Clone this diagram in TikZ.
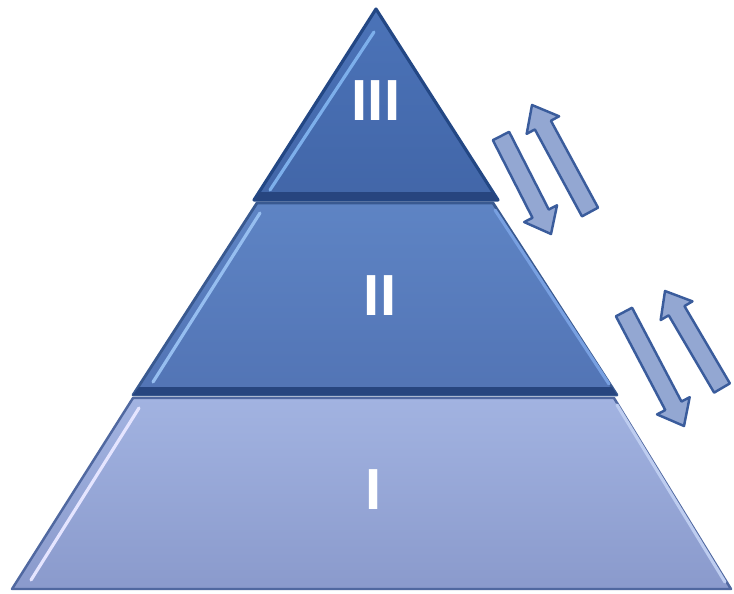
\documentclass[tikz,border=0pt]{standalone}
\usepackage{fontspec}
\setsansfont{Liberation Sans}
\usetikzlibrary{calc}
\definecolor{rimdark}{HTML}{234784}
\definecolor{bandnavy}{HTML}{27457F}
\definecolor{threetop}{HTML}{4B73B8}
\definecolor{threebot}{HTML}{4266A8}
\definecolor{twotop}{HTML}{5E84C4}
\definecolor{twobot}{HTML}{5274B5}
\definecolor{onetop}{HTML}{A2B3E1}
\definecolor{onebot}{HTML}{8A9ACC}
\definecolor{onerim}{HTML}{5068A0}
\definecolor{lightone}{HTML}{BECDF0}
\definecolor{lighttwo}{HTML}{96BEF0}
\definecolor{rimtwo}{HTML}{78A0E1}
\definecolor{lightthree}{HTML}{7DAFEB}
\definecolor{arrowfill}{HTML}{93A7D2}
\definecolor{arrowrim}{HTML}{3A5C9C}
\tikzset{
  tierthree/.style ={draw=rimdark, line width=1.8pt, line join=round,
                     top color=threetop, bottom color=threebot},
  tiertwo/.style   ={draw=rimdark!90, line width=1.6pt, line join=round,
                     top color=twotop, bottom color=twobot},
  tierone/.style   ={draw=onerim, line width=1.4pt, line join=round,
                     top color=onetop, bottom color=onebot},
  band/.style      ={fill=bandnavy},
  hilite/.style    ={line width=1.8pt, line cap=round},
  numeral/.style   ={font=\sffamily\bfseries\fontsize{33}{33}\selectfont,
                     text=white, inner sep=0pt},
  barrow/.style    ={fill=arrowfill, draw=arrowrim, line width=1.4pt,
                     line join=round},
}
\newcommand{\blockarrow}[2]{%
  \coordinate (neck) at ($(#2)!13pt!(#1)$);
  \draw[barrow] ($(#1)!5.2pt!90:(#2)$) -- ($(neck)!5.2pt!90:(#2)$)
    -- ($(neck)!10.5pt!90:(#2)$) -- (#2) -- ($(neck)!10.5pt!-90:(#2)$)
    -- ($(neck)!5.2pt!-90:(#2)$) -- ($(#1)!5.2pt!-90:(#2)$) -- cycle;
}

\begin{document}
\begin{tikzpicture}[x=0.02cm, y=-0.02cm]
\useasboundingbox (0,0) rectangle (734,593);
% level I
\draw[tierone] (133,398) -- (614,398) -- (731,589) -- (12,589) -- cycle;
\draw[hilite, white!90!blue] (139,408) -- (31,580);
\draw[hilite, lightone] (617,405) -- (725,582);
% level II
\draw[tiertwo] (257,203) -- (493,203) -- (617,395) -- (133,395) -- cycle;
\fill[band] (139,387) -- (612,387) -- (617,395) -- (133,395) -- cycle;
\draw[hilite, lighttwo] (260,213) -- (153,382);
\draw[hilite, rimtwo] (495,210) -- (609,384);
% level III
\draw[tierthree] (376,9) -- (498,200) -- (254,200) -- cycle;
\fill[band] (260,192) -- (493,192) -- (498,200) -- (254,200) -- cycle;
\draw[hilite, lightthree] (374,32) -- (270,190);
% numerals
\node[numeral] (numIII) at (376,101) {III};
\node[numeral] (numII)  at (380,296) {II};
\node[numeral] (numI)   at (374,490) {I};
% exchange arrows
\coordinate (downA) at (501,136);
\coordinate (tipdownA) at (551,234);
\coordinate (upA) at (590,212);
\coordinate (tipupA) at (532,105);
\coordinate (downB) at (624,312);
\coordinate (tipdownB) at (684,426);
\coordinate (upB) at (722,388);
\coordinate (tipupB) at (665,291);
\blockarrow{downA}{tipdownA}
\blockarrow{upA}{tipupA}
\blockarrow{downB}{tipdownB}
\blockarrow{upB}{tipupB}
\end{tikzpicture}
\end{document}
